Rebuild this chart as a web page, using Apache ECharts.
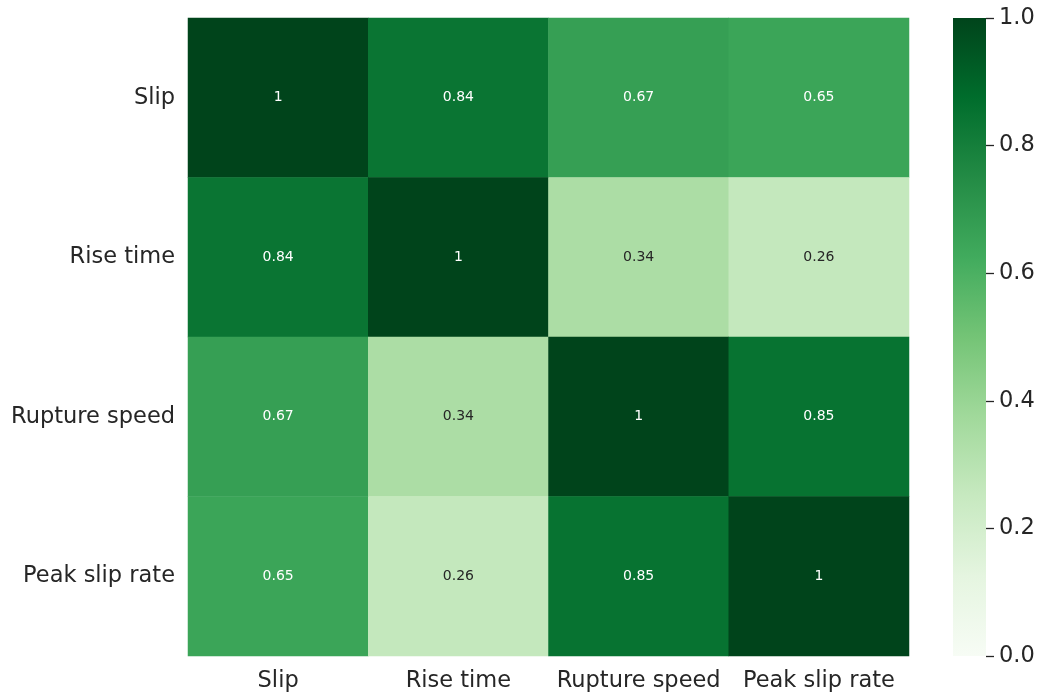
<!DOCTYPE html>
<html>
<head>
<meta charset="utf-8">
<script src="https://cdn.jsdelivr.net/npm/echarts@6/dist/echarts.min.js"></script>
<style>
html, body { margin: 0; padding: 0; background: #fff; }
#chart { width: 1042px; height: 693px; }
</style>
</head>
<body>
<div id="chart"></div>
<script>
// Correlation matrix between rupture parameters
const variables = ['Slip', 'Rise time', 'Rupture speed', 'Peak slip rate'];
const rowSlip = [1, 0.84, 0.67, 0.65];
const rowRiseTime = [0.84, 1, 0.34, 0.26];
const rowRuptureSpeed = [0.67, 0.34, 1, 0.85];
const rowPeakSlipRate = [0.65, 0.26, 0.85, 1];
const colorbarTicks = [0, 0.2, 0.4, 0.6, 0.8, 1.0];

// Sequential green palette, light to dark
const greens = ['#f7fcf5', '#e5f5e0', '#c7e9c0', '#a1d99b', '#74c476',
                '#41ab5d', '#238b45', '#006d2c', '#00441b'];

const rows = [rowSlip, rowRiseTime, rowRuptureSpeed, rowPeakSlipRate];
const cells = [];
rows.forEach((row, r) => {
  row.forEach((v, c) => {
    cells.push({
      value: [c, r, v],
      label: { color: v < 0.45 ? '#262626' : '#ffffff' }
    });
  });
});

const textColor = '#262626';
const font = 'DejaVu Sans';

// Vertical gradient for the colour bar (bottom = 0, top = 1)
const barGradient = new echarts.graphic.LinearGradient(0, 1, 0, 0,
  greens.map((c, i) => ({ offset: i / (greens.length - 1), color: c })));

const chart = echarts.init(document.getElementById('chart'), null, { renderer: 'canvas' });
chart.setOption({
  backgroundColor: '#ffffff',
  animation: false,
  grid: [
    { left: 188, right: 133, top: 18, bottom: 37 },
    { left: 953, width: 33, top: 18, bottom: 37 }
  ],
  xAxis: [
    {
      type: 'category', gridIndex: 0, data: variables,
      axisLine: { show: false }, axisTick: { show: false }, splitLine: { show: false },
      axisLabel: { color: textColor, fontFamily: font, fontSize: 22.5, margin: 14, interval: 0 }
    },
    { type: 'category', gridIndex: 1, data: ['scale'], show: false }
  ],
  yAxis: [
    {
      type: 'category', gridIndex: 0, data: variables, inverse: true,
      axisLine: { show: false }, axisTick: { show: false }, splitLine: { show: false },
      axisLabel: { color: textColor, fontFamily: font, fontSize: 22.5, margin: 13, interval: 0 }
    },
    {
      type: 'value', gridIndex: 1, position: 'right', min: 0, max: 1, interval: 0.2,
      axisLine: { show: true, lineStyle: { color: 'rgba(0,0,0,0)' } },
      splitLine: { show: false },
      axisTick: { show: true, length: 8, lineStyle: { color: textColor, width: 1.3 } },
      axisLabel: {
        color: textColor, fontFamily: font, fontSize: 22.5, margin: 13,
        formatter: v => colorbarTicks.includes(Math.round(v * 10) / 10) ? v.toFixed(1) : ''
      }
    }
  ],
  visualMap: {
    type: 'continuous', seriesIndex: 0, min: 0, max: 1,
    show: false,
    inRange: { color: greens }
  },
  series: [
    {
      type: 'heatmap', xAxisIndex: 0, yAxisIndex: 0,
      data: cells,
      label: { show: true, fontFamily: font, fontSize: 14, formatter: p => String(p.value[2]) },
      emphasis: { disabled: true }
    },
    {
      type: 'bar', xAxisIndex: 1, yAxisIndex: 1,
      data: [colorbarTicks[colorbarTicks.length - 1]],
      barWidth: '100%',
      itemStyle: { color: barGradient },
      emphasis: { disabled: true },
      silent: true
    }
  ]
});
</script>
</body>
</html>
